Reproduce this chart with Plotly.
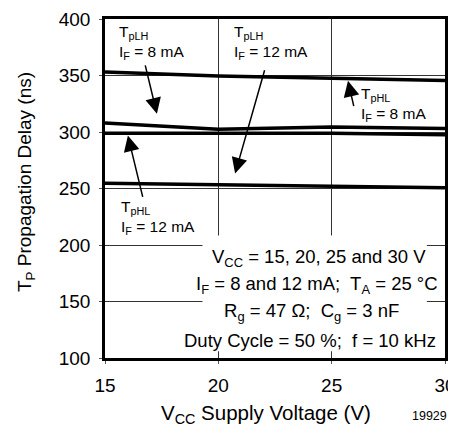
import plotly.graph_objects as go

vcc = [15, 20, 25, 30]
tphl_8ma = [353, 349.5, 347.5, 345.5]
tplh_8ma = [308, 302.5, 304.5, 303]
tphl_12ma = [299, 299, 298.8, 297.5]
tplh_12ma = [254.7, 253.2, 252.4, 250.6]

x_ticks = [15, 20, 25, 30]
y_ticks = [100, 150, 200, 250, 300, 350, 400]

FONT = "Liberation Sans, Arial, sans-serif"
# plot area on the page: x 105..445, y 19..358
def px(x): return (x - 105) / 340
def py(y): return (358 - y) / 339

fig = go.Figure()
for ys in [tphl_8ma, tplh_8ma, tphl_12ma, tplh_12ma]:
    fig.add_trace(go.Scatter(x=vcc, y=ys, mode='lines', line=dict(color='black', width=3.5),
                             showlegend=False, hoverinfo='skip'))

# white box behind the test conditions (hides the grid)
fig.add_shape(type='rect', xref='x', yref='y', x0=19.3, x1=29.2, y0=106, y1=208.5,
              fillcolor='white', line=dict(width=0), layer='between')

labels = [
    ("T<sub>pLH</sub><br>I<sub>F</sub> = 8 mA", 15.55, 398.5),
    ("T<sub>pLH</sub><br>I<sub>F</sub> = 12 mA", 20.6, 398.5),
    ("T<sub>pHL</sub><br>I<sub>F</sub> = 8 mA", 26.2, 343),
    ("T<sub>pHL</sub><br>I<sub>F</sub> = 12 mA", 15.6, 243),
]
for txt, x, y in labels:
    fig.add_annotation(text=txt, x=x, y=y, xref='x', yref='y', showarrow=False,
                       xanchor='left', yanchor='top', align='left',
                       font=dict(family=FONT, size=15.5, color='black'))

arrows = [
    ((16.76, 360.3), (17.29, 316.2)),
    ((22.06, 355.9), (20.74, 263.2)),
    ((25.99, 321.5), (25.72, 345.3)),
    ((16.68, 241.2), (16.01, 296.8)),
]
for (tx, ty), (hx, hy) in arrows:
    fig.add_annotation(x=hx, y=hy, ax=tx, ay=ty, xref='x', yref='y', axref='x', ayref='y',
                       text='', showarrow=True, arrowhead=2, arrowsize=2.1, arrowwidth=1.5,
                       arrowcolor='black')

conditions = [
    ("V<sub>CC</sub> = 15, 20, 25 and 30 V", 319, 258),
    ("I<sub>F</sub> = 8 and 12 mA;  T<sub>A</sub> = 25 °C", 317, 285),
    ("R<sub>g</sub> = 47 Ω;  C<sub>g</sub> = 3 nF", 311, 312),
    ("Duty Cycle = 50 %;  f = 10 kHz", 310, 340),
]
for txt, cx, cy in conditions:
    fig.add_annotation(text=txt, x=px(cx), y=py(cy), xref='paper', yref='paper',
                       showarrow=False, xanchor='center', yanchor='middle',
                       font=dict(family=FONT, size=18.5, color='black'))

fig.add_annotation(text="T<sub>P</sub> Propagation Delay (ns)", x=px(26), y=py(182),
                   xref='paper', yref='paper', showarrow=False, textangle=-90,
                   xanchor='center', yanchor='middle',
                   font=dict(family=FONT, size=19, color='black'))
fig.add_annotation(text="V<sub>CC</sub> Supply Voltage (V)", x=px(266), y=py(414),
                   xref='paper', yref='paper', showarrow=False,
                   xanchor='center', yanchor='middle',
                   font=dict(family=FONT, size=20.5, color='black'))
fig.add_annotation(text="19929", x=px(429), y=py(416),
                   xref='paper', yref='paper', showarrow=False,
                   xanchor='center', yanchor='middle',
                   font=dict(family=FONT, size=12.5, color='black'))

fig.update_xaxes(range=[15, 30], tickvals=x_ticks, showgrid=True, gridcolor='#333', gridwidth=1,
                 showline=True, linecolor='black', linewidth=2.5, mirror=True, zeroline=False,
                 automargin=False,
                 ticks='outside', ticklen=3, tickcolor='#555', tickwidth=1, ticklabelstandoff=5,
                 tickfont=dict(family=FONT, size=19, color='black'))
fig.update_yaxes(range=[100, 400], tickvals=y_ticks, showgrid=True, gridcolor='#333', gridwidth=1,
                 showline=True, linecolor='black', linewidth=2.5, mirror=True, zeroline=False,
                 automargin=False,
                 ticks='outside', ticklen=3, tickcolor='#555', tickwidth=1, ticklabelstandoff=5,
                 tickfont=dict(family=FONT, size=19, color='black'))
# the page body adds an 8px offset, so margins are shifted to keep the plot area in place
fig.update_layout(width=456, height=430, margin=dict(l=97, r=19, t=11, b=80),
                  plot_bgcolor='white', paper_bgcolor='white')
fig.write_html("out.html", config={'displayModeBar': False})
